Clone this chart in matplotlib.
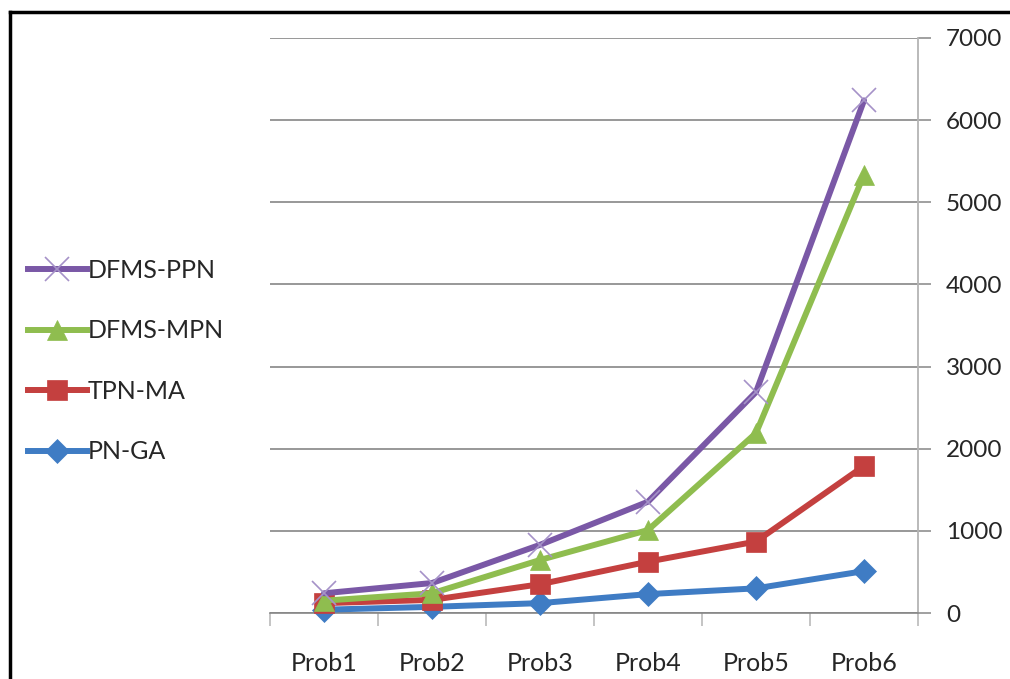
import matplotlib

matplotlib.use("Agg")
import matplotlib.pyplot as plt
from matplotlib.lines import Line2D
import numpy as np

problems = ["Prob1", "Prob2", "Prob3", "Prob4", "Prob5", "Prob6"]
pn_ga = [40, 75, 120, 230, 300, 510]
tpn_ma = [120, 160, 350, 625, 870, 1790]
dfms_mpn = [150, 240, 645, 1010, 2190, 5335]
dfms_ppn = [240, 365, 830, 1355, 2690, 6240]
y_ticks = [0, 1000, 2000, 3000, 4000, 5000, 6000, 7000]

plt.rcParams["font.family"] = ["Lato", "DejaVu Sans"]

GRID = "#868686"
AXIS = "#b4b4b4"
TEXT = "#262626"

series = [
    # label, values, colour, marker, size, marker colour, marker edge width
    ("PN-GA", pn_ga, "#3f7cc4", "D", 12, "#3f7cc4", 0.5),
    ("TPN-MA", tpn_ma, "#c4403f", "s", 15, "#c4403f", 0.5),
    ("DFMS-MPN", dfms_mpn, "#8fbd4f", "^", 15, "#8fbd4f", 0.5),
    ("DFMS-PPN", dfms_ppn, "#7a58a6", "x", 17, "#a592c8", 1.2),
]

fig = plt.figure(figsize=(10.10, 6.79), dpi=100)
ax = fig.add_axes([270 / 1010, 66 / 679, 648 / 1010, 575 / 679])

x = np.arange(len(problems))
handles = []
for label, values, color, marker, size, mcolor, mew in series:
    style = dict(
        color=color,
        linewidth=4.3,
        marker=marker,
        markersize=size,
        markerfacecolor=mcolor,
        markeredgecolor=mcolor,
        markeredgewidth=mew,
    )
    ax.plot(x, values, solid_joinstyle="round", solid_capstyle="round",
            clip_on=False, zorder=3, **style)
    handles.append(Line2D([], [], label=label, **style))

ax.set_xlim(-0.5, len(problems) - 0.5)
ax.set_ylim(0, 7000)

# value axis on the right, horizontal gridlines poking out as tick marks
ax.yaxis.tick_right()
ax.set_yticks(y_ticks)
ax.set_yticklabels([str(v) for v in y_ticks])
ax.tick_params(axis="y", which="major", direction="out", length=9, width=1.1,
               color=GRID, pad=11, labelsize=17.5, labelcolor=TEXT)
ax.grid(axis="y", color=GRID, linewidth=1.2, zorder=0)

# category ticks sit between the categories, labels at the centres
ax.set_xticks(x)
ax.set_xticklabels(problems)
ax.set_xticks(np.arange(len(problems) + 1) - 0.5, minor=True)
ax.tick_params(axis="x", which="major", length=0, pad=28, labelsize=18,
               labelcolor=TEXT)
ax.tick_params(axis="x", which="minor", direction="out", length=9, width=1.1,
               color=AXIS)

for side in ("top", "left"):
    ax.spines[side].set_visible(False)
ax.spines["right"].set_color(AXIS)
ax.spines["right"].set_linewidth(1.3)
ax.spines["bottom"].set_color(GRID)
ax.spines["bottom"].set_linewidth(1.2)

fig.legend(
    handles=handles[::-1],
    loc="center left",
    bbox_to_anchor=(28 / 1010, 1 - 361 / 679),
    frameon=False,
    fontsize=18,
    labelcolor=TEXT,
    numpoints=1,
    handlelength=2.35,
    handletextpad=0.05,
    labelspacing=1.5,
    borderpad=0,
    borderaxespad=0,
)

# outer frame: top and left edges only
fig.add_artist(Line2D([10 / 1010, 1.0], [1 - 12 / 679, 1 - 12 / 679],
                      transform=fig.transFigure, color="black", linewidth=2.5))
fig.add_artist(Line2D([10 / 1010, 10 / 1010], [0.0, 1 - 12 / 679],
                      transform=fig.transFigure, color="black", linewidth=2.5))

fig.savefig("out.png", dpi=100)
plt.close(fig)
